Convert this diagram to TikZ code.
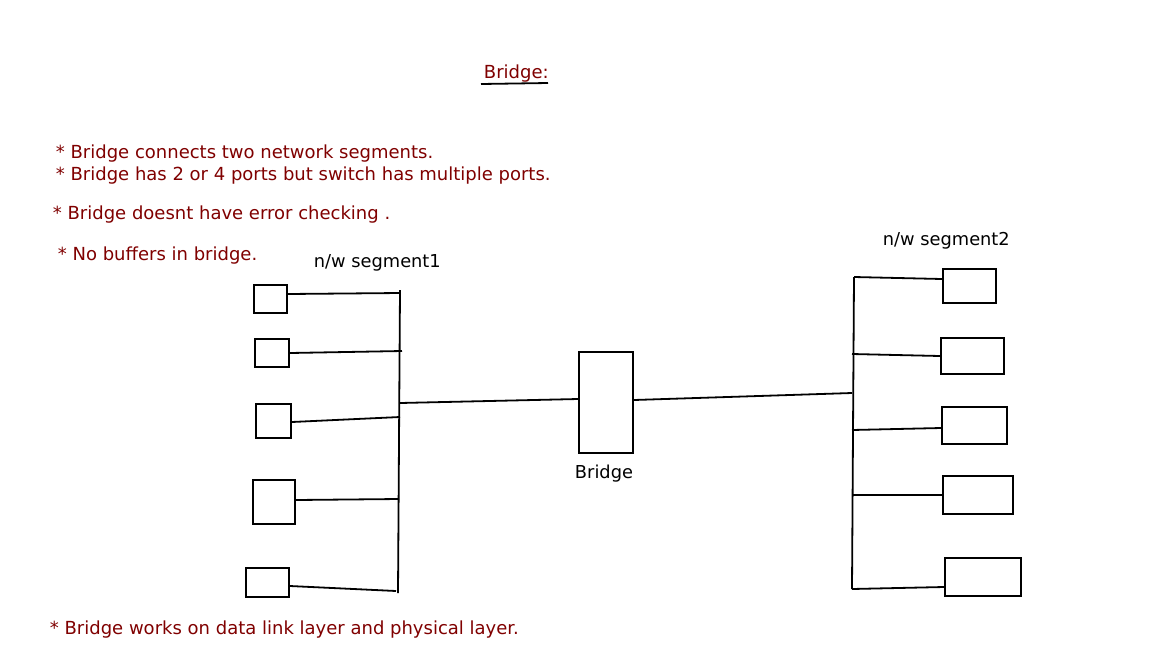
\documentclass[tikz,border=0pt]{standalone}
\usepackage{fontspec}
\setmainfont{DejaVu Sans}
\definecolor{note}{RGB}{128,0,0}
\begin{document}
\begin{tikzpicture}[x=1pt,y=-1pt,
  line width=1.8pt,
  box/.style={draw=black,line width=1.8pt,inner sep=0pt,fill=white},
  notetext/.style={text=note,anchor=west,inner sep=0pt,font=\fontsize{18}{21}\selectfont},
  lbl/.style={text=black,inner sep=0pt,font=\fontsize{17.8}{21}\selectfont},
  wire/.style={draw=black,line width=1.8pt}]
\useasboundingbox[fill=white] (0,0) rectangle (1168,657);

% title
\node[notetext] (title) at (483,73.5) {Bridge:};
\coordinate (ul1) at (481,84);
\coordinate (ul2) at (548,83);
\draw[wire] (ul1) -- (ul2);

% notes
\node[notetext] (n1) at (55,153.5) {* Bridge connects two network segments.};
\node[notetext] (n2) at (55,175.5) {* Bridge has 2 or 4 ports but switch has multiple ports.};
\node[notetext] (n3) at (52,214.5) {* Bridge doesnt have error checking .};
\node[notetext] (n4) at (57,255.5) {* No buffers in bridge.};
\node[notetext] (n5) at (49,629.5) {* Bridge works on data link layer and physical layer.};

% segment labels
\node[lbl,anchor=west] (s1) at (313,262.5) {n/w segment1};
\node[lbl,anchor=west] (s2) at (882,240.5) {n/w segment2};

% left bus
\coordinate (lt) at (400,290);
\coordinate (lb) at (398,593);
\draw[wire] (lt) -- (lb);
\coordinate (lp1) at (400,293);
\coordinate (lp2) at (402,351);
\coordinate (lp3) at (400,417);
\coordinate (lp4) at (399,499);
\coordinate (lp5) at (396,591);
\coordinate (lpb) at (400,403);

% left hosts
\node[box,minimum width=33pt,minimum height=28pt] (l1) at (270.5,299) {};
\node[box,minimum width=34pt,minimum height=28pt] (l2) at (272,353) {};
\node[box,minimum width=35pt,minimum height=34pt] (l3) at (273.5,421) {};
\node[box,minimum width=42pt,minimum height=44pt] (l4) at (274,502) {};
\node[box,minimum width=43pt,minimum height=29pt] (l5) at (267.5,582.5) {};
\draw[wire] ([yshift=5pt]l1.east) -- (lp1);
\draw[wire] (l2.east) -- (lp2);
\draw[wire] ([yshift=-1pt]l3.east) -- (lp3);
\draw[wire] ([yshift=2pt]l4.east) -- (lp4);
\draw[wire] ([yshift=-3.5pt]l5.east) -- (lp5);

% bridge
\node[box,minimum width=54pt,minimum height=101pt] (br) at (606,402.5) {};
\node[lbl] (brl) at (604,473.5) {Bridge};

% right bus
\coordinate (rt) at (854,277);
\coordinate (rb) at (852,589);
\draw[wire] (rt) -- (rb);
\coordinate (rp1) at (854,277);
\coordinate (rp2) at (852,354);
\coordinate (rp3) at (852,430);
\coordinate (rp4) at (853,495);
\coordinate (rp5) at (852,589);
\coordinate (rpb) at (852,393);

\draw[wire] (lpb) -- ([yshift=3.5pt]br.west);
\draw[wire] ([yshift=2.5pt]br.east) -- (rpb);

% right hosts
\node[box,minimum width=53pt,minimum height=34pt] (r1) at (969.5,286) {};
\node[box,minimum width=63pt,minimum height=36pt] (r2) at (972.5,356) {};
\node[box,minimum width=65pt,minimum height=37pt] (r3) at (974.5,425.5) {};
\node[box,minimum width=70pt,minimum height=38pt] (r4) at (978,495) {};
\node[box,minimum width=76pt,minimum height=38pt] (r5) at (983,577) {};
\draw[wire] (rp1) -- ([yshift=7pt]r1.west);
\draw[wire] (rp2) -- (r2.west);
\draw[wire] (rp3) -- ([yshift=-2.5pt]r3.west);
\draw[wire] (rp4) -- (r4.west);
\draw[wire] (rp5) -- ([yshift=-10pt]r5.west);
\end{tikzpicture}
\end{document}
